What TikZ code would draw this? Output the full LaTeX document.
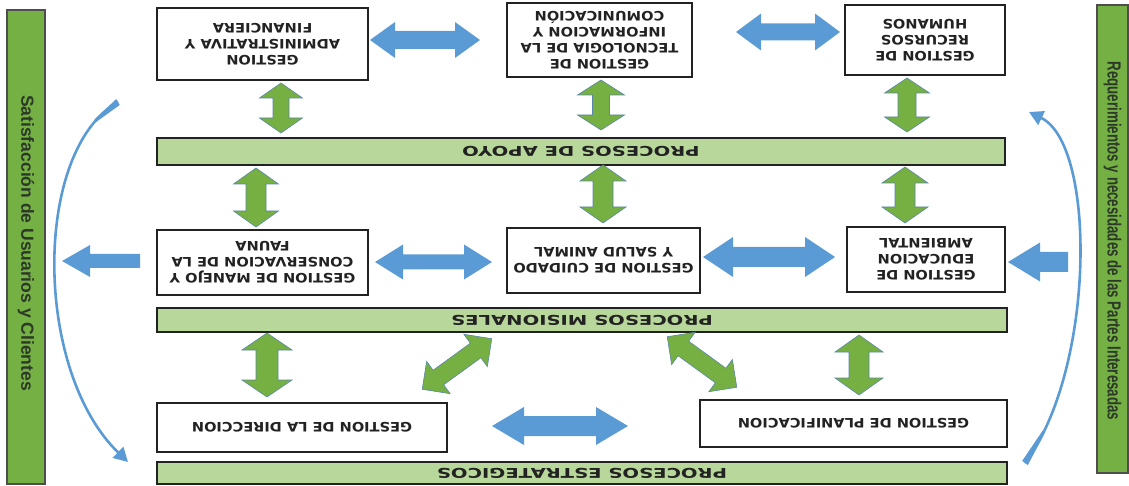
\documentclass[tikz,border=0pt]{standalone}
\usepackage{fontspec}
\usetikzlibrary{arrows.meta}
\newfontfamily\boxfont{DejaVu Sans Bold}[FakeStretch=1.12]
\newfontfamily\barfont{DejaVu Sans Bold}[FakeStretch=1.45]
\newfontfamily\sidefontA{Liberation Sans Bold}
\newfontfamily\sidefontB{Liberation Sans Bold}[FakeStretch=0.7]
\definecolor{blueA}{HTML}{5B9BD5}
\definecolor{greenA}{HTML}{76B043}
\definecolor{greenEdge}{HTML}{5A86A8}
\definecolor{barG}{HTML}{B8D79B}
\definecolor{sideG}{HTML}{74B044}
\definecolor{sideText}{HTML}{2C3828}
\definecolor{inkC}{HTML}{222222}
\tikzset{
  procbox/.style={draw=inkC, line width=1.2pt, fill=white, rotate=180, align=center,
    inner sep=1pt, text=inkC, font=\boxfont\fontsize{13}{16}\selectfont},
  procbar/.style={draw=inkC, line width=1.4pt, fill=barG, rotate=180, inner sep=0pt,
    text=inkC, font=\barfont\fontsize{13.5}{15}\selectfont},
  sidebar/.style={draw=inkC!80, line width=1.2pt, fill=sideG, inner sep=0pt},
  sidetext/.style={rotate=-90, text=sideText, inner sep=0pt},
  bluefill/.style={fill=blueA, draw=none},
  greenfill/.style={fill=greenA, draw=greenEdge, line width=0.6pt, line join=miter},
  arcline/.style={draw=blueA, line width=2.6pt, -{Triangle[width=15pt,length=14pt]}},
}
% #1 name, #2 centre, #3 angle, #4 length, #5 shaft, #6 head width, #7 head length, #8 style
\newcommand\dblarr[8]{%
  \coordinate (#1) at (#2);
  \begin{scope}[shift={(#1)}, rotate=#3]
    \path[#8] ({-#4/2},0) -- ({-#4/2+#7},{#6/2}) -- ({-#4/2+#7},{#5/2}) -- ({#4/2-#7},{#5/2})
      -- ({#4/2-#7},{#6/2}) -- ({#4/2},0) -- ({#4/2-#7},{-#6/2}) -- ({#4/2-#7},{-#5/2})
      -- ({-#4/2+#7},{-#5/2}) -- ({-#4/2+#7},{-#6/2}) -- cycle;
  \end{scope}}
% single arrow pointing left
\newcommand\sglarr[7]{%
  \coordinate (#1) at (#2);
  \begin{scope}[shift={(#1)}]
    \path[#7] ({-#3/2},0) -- ({-#3/2+#6},{#5/2}) -- ({-#3/2+#6},{#4/2}) -- ({#3/2},{#4/2})
      -- ({#3/2},{-#4/2}) -- ({-#3/2+#6},{-#4/2}) -- ({-#3/2+#6},{-#5/2}) -- cycle;
  \end{scope}}
\begin{document}
\begin{tikzpicture}[x=1pt,y=-1pt]
\useasboundingbox (0,0) rectangle (1129,486);
% side bars
\node[sidebar, minimum width=38pt, minimum height=474pt] (lbar) at (26,247) {};
\node[sidetext, font=\sidefontA\fontsize{17.5}{20}\selectfont] (ltext) at (26,243) {Satisfacción de Usuarios y Clientes};
\node[sidebar, minimum width=31pt, minimum height=468pt] (rbar) at (1112.5,239) {};
\node[sidetext, font=\sidefontB\fontsize{19}{22}\selectfont] (rtext) at (1112.5,241) {Requerimientos y necesidades de las Partes Interesadas};
% top row
\node[procbox, minimum width=211pt, minimum height=72pt] (adm) at (262.5,44) {GESTION\\ADMINISTRATIVA Y\\FINANCIERA};
\node[procbox, minimum width=185pt, minimum height=74pt] (tic) at (599.5,40) {GESTION DE\\TECNOLOGIA DE LA\\INFORMACION Y\\COMUNICACIÓN};
\node[procbox, minimum width=160pt, minimum height=70pt] (rh) at (925,40) {GESTION DE\\RECURSOS\\HUMANOS};
% bars
\node[procbar, minimum width=848pt, minimum height=27pt] (apoyo) at (581,151.5) {PROCESOS DE APOYO};
\node[procbar, minimum width=850pt, minimum height=24pt] (mision) at (582,320) {PROCESOS MISIONALES};
\node[procbar, minimum width=850pt, minimum height=22pt] (estrat) at (582,473) {PROCESOS ESTRATEGICOS};
% middle row
\node[procbox, minimum width=211pt, minimum height=65pt] (fauna) at (262.5,262.5) {GESTION DE MANEJO Y\\CONSERVACION DE LA\\FAUNA};
\node[procbox, minimum width=193pt, minimum height=65pt] (cuid) at (603.5,260.5) {GESTION DE CUIDADO\\Y SALUD ANIMAL};
\node[procbox, minimum width=158pt, minimum height=65pt] (edu) at (926,259.5) {GESTION DE\\EDUCACION\\AMBIENTAL};
% bottom row
\node[procbox, minimum width=290pt, minimum height=49pt] (dir) at (302,427.5) {GESTION DE LA DIRECCION};
\node[procbox, minimum width=307pt, minimum height=47pt] (plan) at (853.5,423.5) {GESTION DE PLANIFICACION};
% blue horizontal double arrows
\dblarr{a1}{425,40}{0}{110}{18}{36}{25}{bluefill}
\dblarr{a2}{788,32}{0}{104}{17}{37}{25}{bluefill}
\dblarr{a3}{433.5,262}{0}{117}{15}{35}{28}{bluefill}
\dblarr{a4}{769,257}{0}{132}{20}{40}{30}{bluefill}
\dblarr{a5}{560,426}{0}{136}{20}{38}{32}{bluefill}
% big side arrows
\sglarr{lin}{101,261}{78}{14}{32}{28}{bluefill}
\sglarr{rin}{1038,262}{60}{20}{39}{32}{bluefill}
% green vertical double arrows
\dblarr{g1}{281,108}{90}{50}{16}{43}{15}{greenfill}
\dblarr{g2}{601,105}{90}{50}{17}{47}{15}{greenfill}
\dblarr{g3}{907,105}{90}{54}{18}{45}{15}{greenfill}
\dblarr{g4}{256,197.5}{90}{59}{20}{45}{16}{greenfill}
\dblarr{g5}{603,194}{90}{58}{20}{46}{16}{greenfill}
\dblarr{g6}{905,195}{90}{56}{20}{46}{16}{greenfill}
\dblarr{g7}{267,365}{90}{64}{22}{50}{17}{greenfill}
\dblarr{g8}{859,365}{90}{60}{20}{48}{17}{greenfill}
% green diagonal double arrows
\dblarr{d1}{457,364}{36}{86}{18}{40}{20}{greenfill}
\dblarr{d2}{702,362}{-36}{86}{18}{40}{20}{greenfill}
% curved arrows
\coordinate (la) at (118,102);
\coordinate (lb) at (128,462);
\draw[arcline] (la) .. controls (33,150) and (33,370) .. (lb);
\fill[blueA] (116.3,99) -- (119.7,105) -- (95.7,122.3) -- (94.3,119.7) -- cycle;
\coordinate (ra) at (1025,463);
\coordinate (rb) at (1029,112);
\draw[arcline] (ra) .. controls (1095,370) and (1097,145) .. (rb);
\fill[blueA] (1022.2,460.9) -- (1027.8,465.1) -- (1045.1,432.3) -- (1042.7,430.5) -- cycle;
\end{tikzpicture}
\end{document}
